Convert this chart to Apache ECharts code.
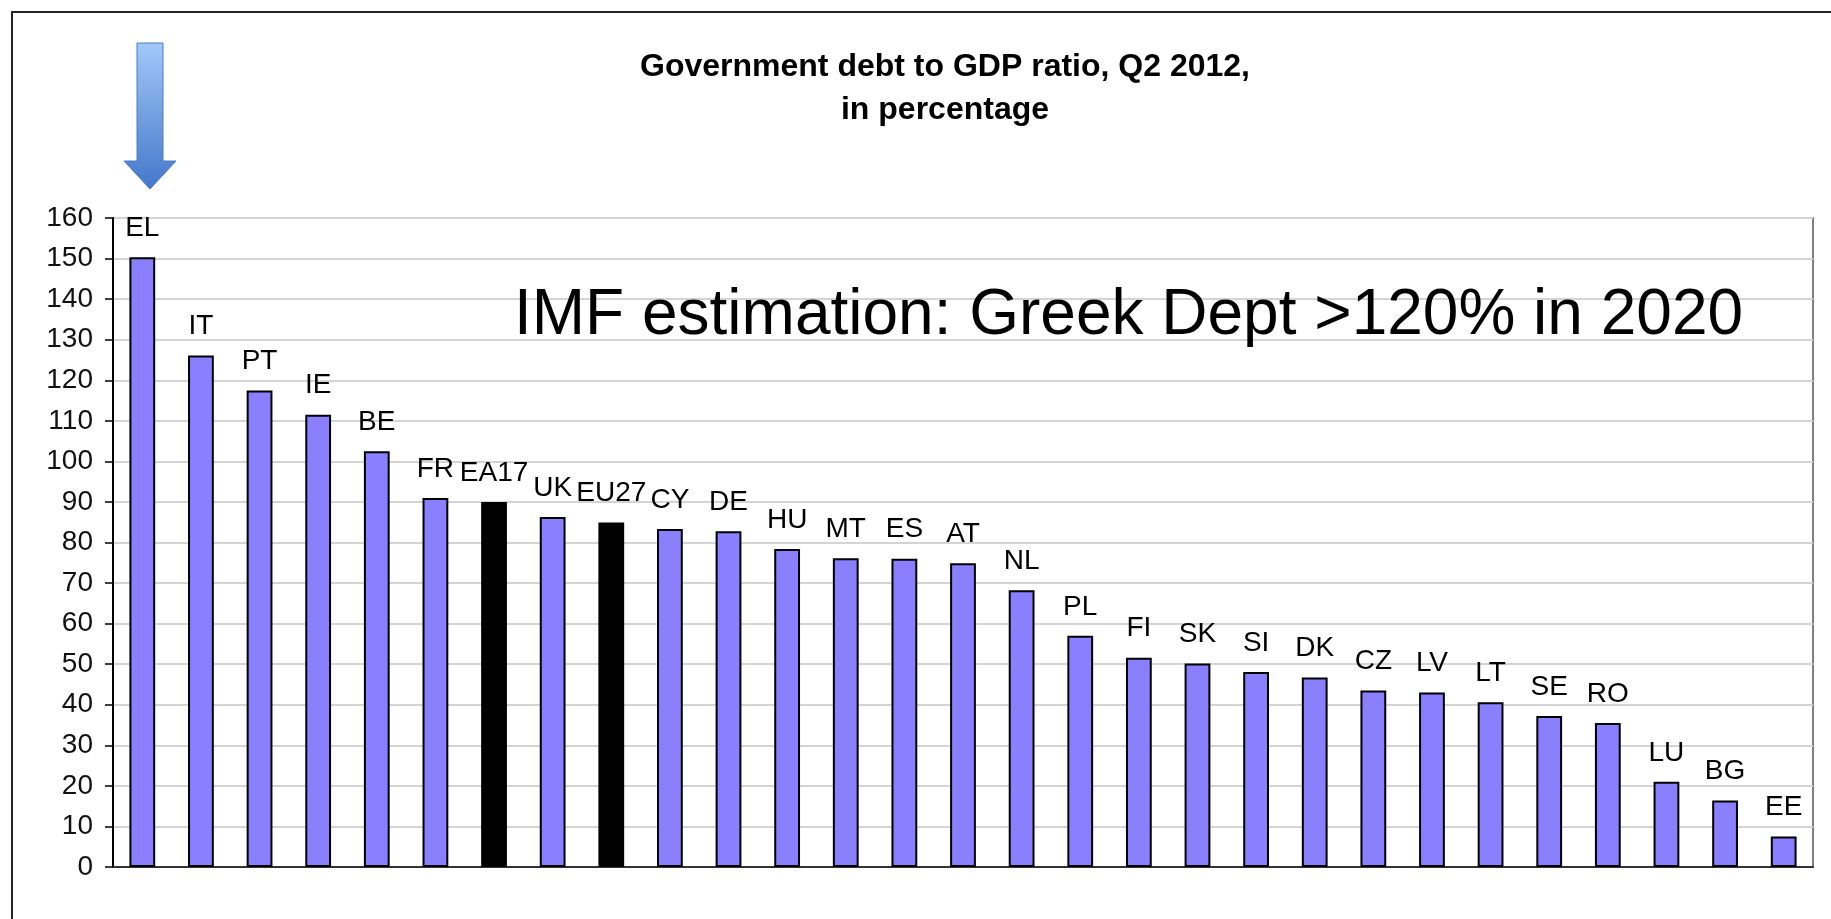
<!DOCTYPE html>
<html>
<head>
<meta charset="utf-8">
<script src="https://cdn.jsdelivr.net/npm/echarts@6/dist/echarts.min.js"></script>
<style>
html,body{margin:0;padding:0;background:#fff;}
#chart{width:1831px;height:919px;}
</style>
</head>
<body>
<div id="chart"></div>
<script>
var categories = ['EL','IT','PT','IE','BE','FR','EA17','UK','EU27','CY','DE','HU','MT','ES','AT','NL','PL','FI','SK','SI','DK','CZ','LV','LT','SE','RO','LU','BG','EE'];
var debtValues = [150.3,126.1,117.5,111.5,102.5,91.0,90.0,86.3,84.9,83.3,82.8,78.4,76.1,76.0,74.9,68.2,57.0,51.6,50.2,48.1,46.7,43.5,43.0,40.6,37.2,35.5,21.0,16.4,7.5];
var aggregates = ['EA17','EU27'];
var yTicks = {min: 0, max: 160, interval: 10};
var titleLines = ['Government debt to GDP ratio, Q2 2012,', 'in percentage'];
var annotationText = 'IMF estimation: Greek Dept >120% in 2020';

var barData = categories.map(function(c, i){
  var agg = aggregates.indexOf(c) >= 0;
  return {value: debtValues[i], itemStyle: {color: agg ? '#000000' : '#8a7fff'}};
});

var chart = echarts.init(document.getElementById('chart'));
chart.setOption({
  animation: false,
  backgroundColor: '#ffffff',
  title: {
    text: titleLines.join('\n'),
    left: 940, top: 41, textAlign: 'center',
    textStyle: {fontFamily: 'Liberation Sans, Arial, sans-serif', fontWeight: 'bold', fontSize: 32, lineHeight: 43, color: '#000'}
  },
  grid: {left: 113, right: 18, top: 218, bottom: 52, show: true, borderColor: '#808080', borderWidth: 2, backgroundColor: 'transparent'},
  xAxis: {
    type: 'category', data: categories,
    axisLine: {lineStyle: {color: '#333', width: 2}},
    axisTick: {show: false},
    axisLabel: {show: false},
    splitLine: {show: false}
  },
  yAxis: {
    type: 'value', min: yTicks.min, max: yTicks.max, interval: yTicks.interval,
    axisLine: {show: true, lineStyle: {color: '#000', width: 2}},
    axisTick: {show: true, length: 8, lineStyle: {color: '#000', width: 1.5}},
    axisLabel: {fontFamily: 'Liberation Sans, Arial, sans-serif', fontSize: 28, color: '#111', margin: 20},
    splitLine: {show: true, lineStyle: {color: '#d4d4d4', width: 2}}
  },
  series: [{
    type: 'bar', data: barData, barWidth: '44%',
    itemStyle: {borderColor: '#000', borderWidth: 2},
    label: {
      show: true, position: 'top', distance: 15,
      formatter: function(p){ return p.name; },
      fontFamily: 'Liberation Sans, Arial, sans-serif', fontSize: 28, color: '#000'
    }
  }],
  graphic: [
    {type: 'rect', shape: {x: 12, y: 12, width: 1840, height: 940}, style: {fill: 'none', stroke: '#222', lineWidth: 2}, z: 0, silent: true},
    {type: 'polygon', shape: {points: [[137,43],[163,43],[163,161],[176,161],[150,189],[124,161],[137,161]]},
     style: {fill: new echarts.graphic.LinearGradient(0,0,0,1,[{offset:0,color:'#a3c8fa'},{offset:1,color:'#4377c9'}]), stroke: '#4a7cc4', lineWidth: 1}, z: 10},
    {type: 'text', left: 514, top: 284, style: {text: annotationText, font: '64px "Liberation Sans", Arial, sans-serif', fill: '#000'}, z: 10}
  ]
});
</script>
</body>
</html>
